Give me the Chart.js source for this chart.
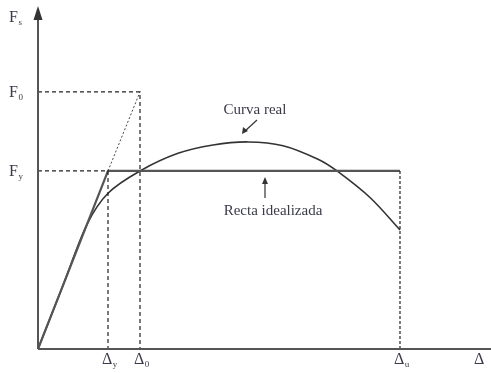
<!DOCTYPE html>
<html>
<head>
<meta charset="utf-8">
<script src="https://cdn.jsdelivr.net/npm/chart.js"></script>
<style>
  html, body { margin: 0; padding: 0; background: #fff; }
  #wrap { width: 491px; height: 373px; }
</style>
</head>
<body>
<div id="wrap"><canvas id="fdChart" width="491" height="373"></canvas></div>
<script>
// characteristic displacements / forces (normalised to yield)
const dispNames = ['y', '0', 'u'];
const dispValues = [1.0, 1.457, 5.171];
const forceNames = ['y', '0'];
const forceValues = [1.0, 1.444];

// real capacity curve
const curveX = [0, 0.35, 0.70, 1.0, 1.457, 2.0, 2.5, 3.0, 3.5, 4.0, 4.271, 4.75, 5.171];
const curveY = [0, 0.35, 0.70, 0.875, 1.0, 1.099, 1.146, 1.163, 1.142, 1.066, 1.0, 0.848, 0.669];

const dy = dispValues[0], d0 = dispValues[1], du = dispValues[2];
const fy = forceValues[0], f0 = forceValues[1];

const pts = (xs, ys) => xs.map((x, i) => ({ x: x, y: ys[i] }));

const dashed = { borderColor: '#222', borderWidth: 1.2, borderDash: [4, 3], pointRadius: 0, showLine: true, fill: false };

// axes, tick labels, annotations
const figurePlugin = {
  id: 'figure',
  afterDatasetsDraw(chart) {
    const c = chart.ctx;
    const xs = chart.scales.x, ys = chart.scales.y;
    const ox = xs.getPixelForValue(0), oy = ys.getPixelForValue(0);
    c.save();
    c.strokeStyle = '#555';
    c.lineWidth = 2;
    c.beginPath();
    c.moveTo(ox, oy); c.lineTo(chart.width, oy);
    c.moveTo(ox, oy); c.lineTo(ox, 14);
    c.stroke();
    c.fillStyle = '#333';
    c.beginPath();
    c.moveTo(ox, 6); c.lineTo(ox - 4.5, 20); c.lineTo(ox + 4.5, 20); c.closePath();
    c.fill();

    const sym = (main, sub, x, y) => {
      c.font = '16px "Liberation Serif"';
      c.textAlign = 'left'; c.textBaseline = 'alphabetic';
      const w = c.measureText(main).width;
      c.fillText(main, x, y);
      c.font = '9px "Liberation Serif"';
      c.fillText(sub, x + w + 0.5, y + 3);
    };
    c.fillStyle = '#3a3a4a';
    dispValues.forEach((v, i) => sym('\u0394', dispNames[i], xs.getPixelForValue(v) - 6, oy + 15));
    sym('\u0394', '', 474, oy + 15);
    forceValues.forEach((v, i) => sym('F', forceNames[i], 9, ys.getPixelForValue(v) + 5));
    sym('F', 's', 9, 22);

    c.font = '15px "Liberation Serif"';
    c.textAlign = 'center'; c.textBaseline = 'middle';
    c.fillText('Curva real', 255, 110);
    c.fillText('Recta idealizada', 273, 211);

    c.strokeStyle = '#333'; c.fillStyle = '#333'; c.lineWidth = 1.2;
    c.beginPath(); c.moveTo(257, 120); c.lineTo(245, 131); c.stroke();
    c.beginPath(); c.moveTo(242, 134); c.lineTo(243, 127); c.lineTo(248, 131); c.closePath(); c.fill();
    c.beginPath(); c.moveTo(265, 198); c.lineTo(265, 181); c.stroke();
    c.beginPath(); c.moveTo(265, 177); c.lineTo(262, 184); c.lineTo(268, 184); c.closePath(); c.fill();
    c.restore();
  }
};

new Chart(document.getElementById('fdChart').getContext('2d'), {
  type: 'scatter',
  data: {
    datasets: [
      Object.assign({ data: [{ x: 0, y: fy }, { x: dy, y: fy }, { x: dy, y: 0 }] }, dashed),
      Object.assign({ data: [{ x: 0, y: f0 }, { x: d0, y: f0 }, { x: d0, y: 0 }] }, dashed),
      Object.assign({ data: [{ x: du, y: fy }, { x: du, y: 0 }] }, dashed, { borderDash: [3, 2] }),
      { data: [{ x: dy, y: fy }, { x: d0, y: f0 }], borderColor: '#444', borderWidth: 1, borderDash: [2, 2], pointRadius: 0, showLine: true },
      { data: [{ x: 0, y: 0 }, { x: dy, y: fy }, { x: du, y: fy }], borderColor: '#555', borderWidth: 2.2, pointRadius: 0, showLine: true },
      { data: pts(curveX, curveY), borderColor: '#333', borderWidth: 1.6, pointRadius: 0, showLine: true, tension: 0.3 }
    ]
  },
  options: {
    responsive: false,
    animation: false,
    layout: { padding: { left: 38, top: 10, right: 0, bottom: 24 } },
    plugins: { legend: { display: false }, tooltip: { enabled: false } },
    scales: {
      x: { type: 'linear', display: false, min: 0, max: 6.471 },
      y: { type: 'linear', display: false, min: 0, max: 1.904 }
    }
  },
  plugins: [figurePlugin]
});
</script>
</body>
</html>
